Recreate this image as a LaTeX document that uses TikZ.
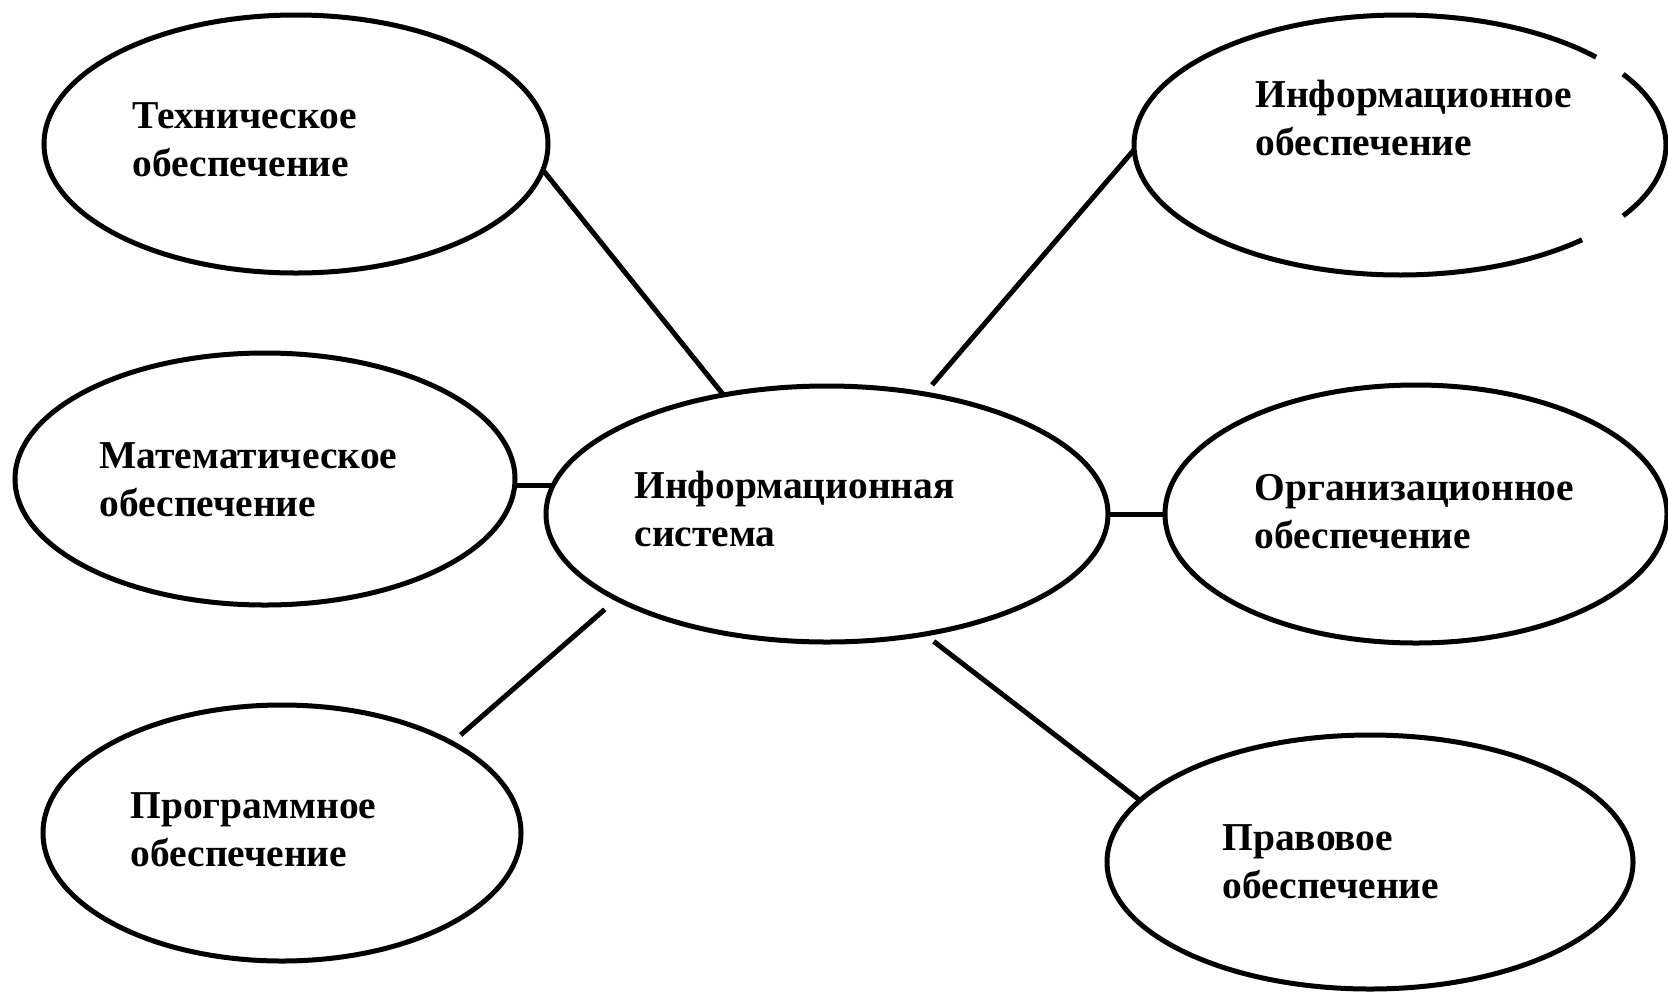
\documentclass[tikz,border=0pt]{standalone}
\usepackage{fontspec}
\setmainfont{Liberation Serif}
\usetikzlibrary{shapes.geometric}

\begin{document}
\begin{tikzpicture}[x=1pt,y=-1pt,line width=5pt,
  part node/.style={ellipse,draw,inner sep=0pt,outer sep=0pt},
  text node/.style={anchor=base west,align=left,inner sep=0pt,
    font=\bfseries\fontsize{39.5}{48}\selectfont}]

  \path[use as bounding box,fill=white] (0,0) rectangle (1668,994);

  \node[part node,minimum width=504pt,minimum height=258pt] (tech) at (296,144) {};
  \node[part node,draw=none,minimum width=532pt,minimum height=260pt] (infs) at (1400,145) {};
  \node[part node,minimum width=500pt,minimum height=252pt] (math) at (265,479) {};
  \node[part node,minimum width=562pt,minimum height=256pt] (is) at (827,514) {};
  \node[part node,minimum width=502pt,minimum height=258pt] (org) at (1416,514) {};
  \node[part node,minimum width=478pt,minimum height=256pt] (prog) at (282,833) {};
  \node[part node,minimum width=526pt,minimum height=254pt] (law) at (1370,862) {};

  % the top right oval is broken on its right side
  \draw (infs.center) ++(-42.5:266 and 130)
    arc[start angle=-42.5,end angle=-313.2,x radius=266,y radius=130];
  \draw (infs.center) ++(33:266 and 130)
    arc[start angle=33,end angle=-33,x radius=266,y radius=130];

  % base of a two-line node is the baseline of its second line
  \node[text node] (tech-t) at (130,176) {Техническое\\обеспечение};
  \node[text node] (infs-t) at (1253,155) {Информационное\\обеспечение};
  \node[text node] (math-t) at (97,516) {Математическое\\обеспечение};
  \node[text node] (is-t) at (632,546) {Информационная\\система};
  \node[text node] (org-t) at (1252,548) {Организационное\\обеспечение};
  \node[text node] (prog-t) at (128,866) {Программное\\обеспечение};
  \node[text node] (law-t) at (1220,898) {Правовое\\обеспечение};

  \path
    (tech.-6) edge (is.131.5)
    (infs.181) edge[shorten >=12pt] (is.51)
    (is.174) edge (math.east |- is.174)
    (is.east) edge (org.west)
    (prog.28.4) edge[shorten <=12pt,shorten >=16pt] (is.202.2)
    (is.-51.3) edge[shorten <=12pt] (law.165);
\end{tikzpicture}
\end{document}
